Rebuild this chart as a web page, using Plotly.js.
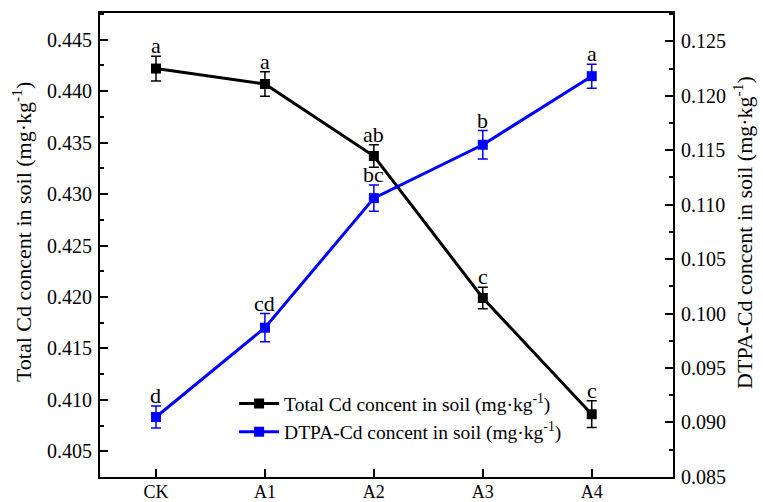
<!DOCTYPE html>
<html>
<head>
<meta charset="utf-8">
<script src="https://cdn.plot.ly/plotly-3.0.1.min.js"></script>
<style>html,body{margin:0;padding:0;background:#fff;}#chart{width:763px;height:502px;}</style>
</head>
<body>
<div id="chart"></div>
<script>
var categories = ['CK', 'A1', 'A2', 'A3', 'A4'];
var totalCd = [0.4422, 0.4407, 0.4337, 0.4199, 0.4086];
var totalCdErr = [0.0012, 0.0012, 0.0011, 0.00105, 0.0013];
var totalCdLetters = ['a', 'a', 'ab', 'c', 'c'];
var dtpaCd = [0.0905, 0.0987, 0.1106, 0.1155, 0.1218];
var dtpaCdErr = [0.0010, 0.0013, 0.0012, 0.0013, 0.0011];
var dtpaCdLetters = ['d', 'cd', 'bc', 'b', 'a'];
var leftTitle = 'Total Cd concent in soil (mg·kg<sup>-1</sup>)';
var rightTitle = 'DTPA-Cd concent in soil (mg·kg<sup>-1</sup>)';

var FONT = '"Liberation Serif", "Times New Roman", serif';

var traces = [
  {
    x: categories, y: totalCd, yaxis: 'y', type: 'scatter', mode: 'lines+markers',
    name: leftTitle,
    line: {color: '#000000', width: 3},
    marker: {symbol: 'square', size: 10, color: '#000000'},
    error_y: {type: 'data', array: totalCdErr, visible: true, color: '#000000', thickness: 1.5, width: 5}
  },
  {
    x: categories, y: dtpaCd, yaxis: 'y2', type: 'scatter', mode: 'lines+markers',
    name: rightTitle,
    line: {color: '#0000FF', width: 3},
    marker: {symbol: 'square', size: 10, color: '#0000FF'},
    error_y: {type: 'data', array: dtpaCdErr, visible: true, color: '#0000FF', thickness: 1.5, width: 5}
  }
];

var annotations = [];
categories.forEach(function (c, i) {
  annotations.push({x: c, y: totalCd[i] + totalCdErr[i], xref: 'x', yref: 'y', text: totalCdLetters[i],
    showarrow: false, yanchor: 'bottom', yshift: -4, font: {family: FONT, size: 22, color: '#000'}});
  annotations.push({x: c, y: dtpaCd[i] + dtpaCdErr[i], xref: 'x', yref: 'y2', text: dtpaCdLetters[i],
    showarrow: false, yanchor: 'bottom', yshift: -4, font: {family: FONT, size: 22, color: '#000'}});
});
annotations.push({xref: 'paper', yref: 'paper', x: -0.136, y: 0.528, text: leftTitle, textangle: -90,
  showarrow: false, xanchor: 'center', yanchor: 'middle', font: {family: FONT, size: 22, color: '#000'}});
annotations.push({xref: 'paper', yref: 'paper', x: 1.122, y: 0.528, text: rightTitle, textangle: -90,
  showarrow: false, xanchor: 'center', yanchor: 'middle', font: {family: FONT, size: 22, color: '#000'}});

var layout = {
  width: 763, height: 502,
  margin: {l: 100, r: 90, t: 13, b: 25, pad: 0},
  paper_bgcolor: '#fff', plot_bgcolor: '#fff',
  font: {family: FONT, size: 20, color: '#000'},
  showlegend: true,
  legend: {x: 0.234, y: 0.2, xanchor: 'left', yanchor: 'top', bgcolor: 'rgba(0,0,0,0)',
    font: {family: FONT, size: 19.5, color: '#000'}, tracegroupgap: 0, itemwidth: 40},
  xaxis: {
    type: 'category', range: [-0.514, 4.746],
    showline: true, linecolor: '#000', linewidth: 2, mirror: true,
    ticks: 'inside', ticklen: 8, tickwidth: 2, tickcolor: '#000',
    showgrid: false, zeroline: false, ticklabelstandoff: -3,
    tickfont: {family: FONT, size: 18, color: '#000'}
  },
  yaxis: {
    range: [0.4025, 0.4476], tick0: 0.405, dtick: 0.005, tickformat: '.3f',
    showline: true, linecolor: '#000', linewidth: 2,
    ticks: 'inside', ticklen: 8, tickwidth: 2, tickcolor: '#000',
    minor: {dtick: 0.0025, tick0: 0.405, ticks: 'inside', ticklen: 4, tickwidth: 2, tickcolor: '#000'},
    showgrid: false, zeroline: false, ticklabelstandoff: 2,
    tickfont: {family: FONT, size: 20, color: '#000'}
  },
  yaxis2: {
    overlaying: 'y', side: 'right',
    range: [0.08499, 0.1276], tick0: 0.085, dtick: 0.005, tickformat: '.3f',
    showline: true, linecolor: '#000', linewidth: 2,
    ticks: 'inside', ticklen: 8, tickwidth: 2, tickcolor: '#000',
    minor: {dtick: 0.0025, tick0: 0.085, ticks: 'inside', ticklen: 4, tickwidth: 2, tickcolor: '#000'},
    showgrid: false, zeroline: false, ticklabelstandoff: 2,
    tickfont: {family: FONT, size: 20, color: '#000'}
  },
  annotations: annotations
};

Plotly.newPlot('chart', traces, layout, {displayModeBar: false, staticPlot: true});
</script>
</body>
</html>
